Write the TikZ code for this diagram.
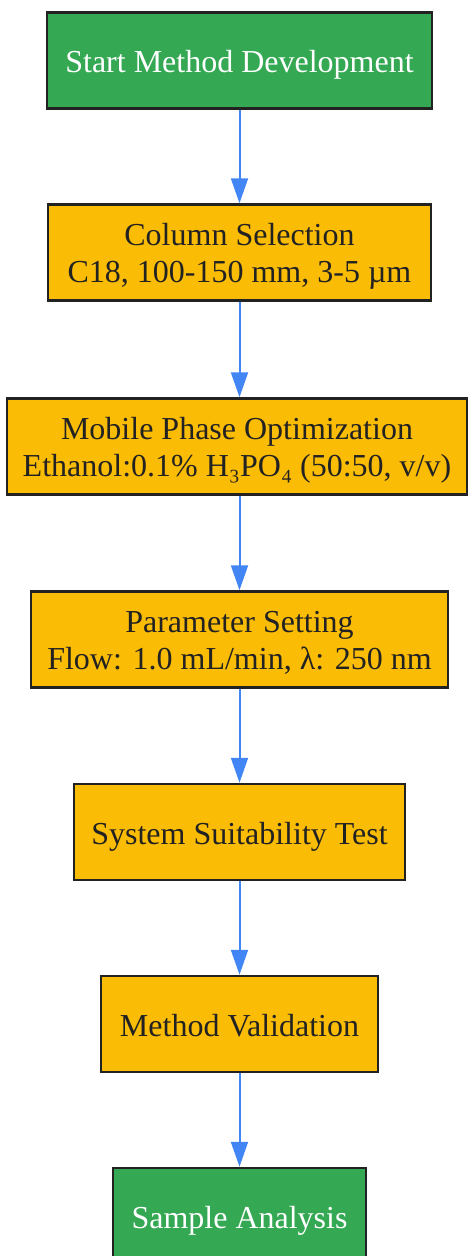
\documentclass[tikz,border=0pt]{standalone}
\usepackage{fontspec}
\setmainfont{Liberation Serif}
\usetikzlibrary{arrows.meta}
\definecolor{stepgreen}{HTML}{34A853}
\definecolor{stepyellow}{HTML}{FBBC05}
\definecolor{flowblue}{HTML}{4285F4}
\definecolor{edgedark}{HTML}{222222}
\begin{document}
\begin{tikzpicture}[
    x=1pt, y=-1pt,
    box/.style={rectangle, draw=edgedark, line width=2.5pt, minimum height=96pt, align=center,
        font=\fontsize{32}{37.5}\selectfont, inner sep=0pt},
    oneline/.style={text height=31pt, text depth=7pt},
    twoline/.style={text height=67pt, text depth=7pt},
    terminal/.style={box, oneline, fill=stepgreen, text=white},
    process/.style={box, fill=stepyellow, text=edgedark},
    arrow/.style={-{Triangle[width=17pt,length=25pt]}, line width=2pt, flowblue}
]
\useasboundingbox (0,0) rectangle (468,1256);

% Start and end
\node[terminal, minimum width=385pt] (start) at (239.5,60.5) {Start Method Development};
\node[terminal, minimum width=253pt] (analysis) at (239.5,1216) {Sample Analysis};

% Development steps
\node[process, twoline, minimum width=383pt] (column) at (239.5,252.5) {Column Selection\\C18, 100-150 mm, 3-5 µm};
\node[process, twoline, minimum width=460pt] (mobile) at (237,446.5) {Mobile Phase Optimization\\Ethanol:0.1\% H₃PO₄ (50:50, v/v)};
\node[process, twoline, minimum width=417pt] (params) at (239.5,639.5) {Parameter Setting\\Flow: 1.0 mL/min, λ: 250 nm};
\node[process, oneline, minimum width=331pt] (suitability) at (239.5,832) {System Suitability Test};
\node[process, oneline, minimum width=277pt] (validation) at (239.5,1024) {Method Validation};

% Connections
\draw[arrow] (start) -- (start |- column.north);
\draw[arrow] (column) -- (column |- mobile.north);
\draw[arrow] (mobile.south -| column) -- (column |- params.north);
\draw[arrow] (params) -- (params |- suitability.north);
\draw[arrow] (suitability) -- (validation);
\draw[arrow] (validation) -- (analysis);

\end{tikzpicture}
\end{document}
